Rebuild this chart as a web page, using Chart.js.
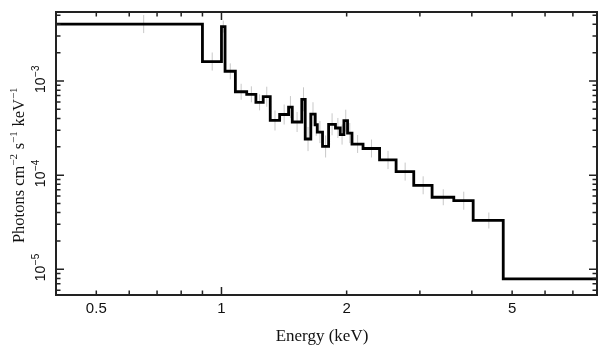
<!DOCTYPE html>
<html><head><meta charset="utf-8">
<script src="https://cdn.jsdelivr.net/npm/chart.js@4/dist/chart.umd.min.js"></script>
<style>html,body{margin:0;padding:0;background:#fff;overflow:hidden}canvas{display:block}</style>
</head><body>
<canvas id="c" width="609" height="357"></canvas>
<script>
// Bin edges (keV) of the step spectrum
const binEdges = [0.40,0.90,1.00,1.02,1.08,1.15,1.21,1.26,1.31,1.38,1.45,1.48,1.56,1.59,1.64,1.68,1.70,1.75,1.81,1.88,1.93,1.97,2.01,2.06,2.19,2.40,2.63,2.90,3.21,3.62,4.03,4.76,8.0];
// Flux level of each bin (photons cm^-2 s^-1 keV^-1)
const binFlux = [4.03e-3,1.61e-3,3.79e-3,1.27e-3,7.69e-4,7.22e-4,5.94e-4,6.81e-4,3.81e-4,4.41e-4,5.29e-4,3.67e-4,6.39e-4,2.42e-4,4.44e-4,3.43e-4,2.87e-4,2.02e-4,3.47e-4,3.17e-4,2.70e-4,3.79e-4,2.80e-4,2.14e-4,1.92e-4,1.45e-4,1.09e-4,7.80e-5,5.82e-5,5.35e-5,3.30e-5,7.89e-6];
// Grey error bars
const errEnergy = [0.65,0.95,1.01,1.05,1.115,1.18,1.235,1.285,1.345,1.415,1.465,1.52,1.575,1.615,1.66,1.69,1.725,1.78,1.845,1.905,1.95,1.99,2.035,2.125,2.295,2.515,2.765,3.055,3.415,3.825,4.395];
const errLow  = [3.23e-3,1.29e-3,3.27e-3,1.04e-3,6.32e-4,5.94e-4,4.88e-4,5.33e-4,2.98e-4,3.45e-4,4.04e-4,2.87e-4,4.77e-4,1.80e-4,3.31e-4,2.62e-4,2.19e-4,1.54e-4,2.65e-4,2.48e-4,2.11e-4,2.90e-4,2.19e-4,1.72e-4,1.54e-4,1.16e-4,8.75e-5,6.26e-5,4.79e-5,4.29e-5,2.71e-5];
const errHigh = [5.02e-3,2.01e-3,4.39e-3,1.54e-3,9.35e-4,8.78e-4,7.22e-4,8.70e-4,4.87e-4,5.63e-4,6.92e-4,4.69e-4,8.57e-4,3.25e-4,5.95e-4,4.49e-4,3.76e-4,2.64e-4,4.54e-4,4.05e-4,3.45e-4,4.96e-4,3.58e-4,2.67e-4,2.39e-4,1.81e-4,1.36e-4,9.72e-5,7.08e-5,6.67e-5,4.01e-5];
// Axis ranges and ticks
const xRange = [0.4, 8.0];
const yRange = [5.33e-6, 5.41e-3];
const xLabelValues = [0.5, 1, 2, 5];
const xLabelTexts = ['0.5', '1', '2', '5'];
const xMajorTicks = [1];
const xMinorTicks = [0.5,0.6,0.7,0.8,0.9,2,3,4,5,6,7];
const yMajorTicks = [1e-5, 1e-4, 1e-3];
const yLabelExponents = ['\u22125', '\u22124', '\u22123'];
const yMinorTicks = [6e-6,7e-6,8e-6,9e-6,2e-5,3e-5,4e-5,5e-5,6e-5,7e-5,8e-5,9e-5,2e-4,3e-4,4e-4,5e-4,6e-4,7e-4,8e-4,9e-4,2e-3,3e-3,4e-3,5e-3];
const xTitle = 'Energy (keV)';
const yTitleParts = [['Photons cm',0],['\u22122',1],[' s',0],['\u22121',1],[' keV',0],['\u22121',1]];

const stepPoints = binFlux.map((v,i)=>({x:binEdges[i], y:v}));
stepPoints.push({x:binEdges[binEdges.length-1], y:binFlux[binFlux.length-1]});
const errPoints = [];
errEnergy.forEach((e,i)=>{ errPoints.push({x:e,y:errLow[i]},{x:e,y:errHigh[i]},{x:e,y:null}); });

const axesPlugin = {
  id:'pgAxes',
  afterDatasetsDraw(chart){
    const ctx = chart.ctx, a = chart.chartArea, xs = chart.scales.x, ys = chart.scales.y;
    ctx.save();
    ctx.strokeStyle = '#222';
    ctx.lineWidth = 1.5;
    ctx.beginPath();
    const xt = (v,len)=>{ const p = xs.getPixelForValue(v); ctx.moveTo(p,a.bottom); ctx.lineTo(p,a.bottom-len); ctx.moveTo(p,a.top); ctx.lineTo(p,a.top+len); };
    const yt = (v,len)=>{ const p = ys.getPixelForValue(v); ctx.moveTo(a.left,p); ctx.lineTo(a.left+len,p); ctx.moveTo(a.right,p); ctx.lineTo(a.right-len,p); };
    xMinorTicks.forEach(v=>xt(v,4.5));
    xMajorTicks.forEach(v=>xt(v,8));
    yMinorTicks.forEach(v=>yt(v,4.5));
    yMajorTicks.forEach(v=>yt(v,8));
    ctx.stroke();
    ctx.lineWidth = 2;
    ctx.strokeRect(a.left, a.top, a.right-a.left, a.bottom-a.top);

    ctx.fillStyle = '#111';
    // x tick labels
    ctx.font = '15px "Liberation Sans", Arial, sans-serif';
    ctx.textAlign = 'center';
    ctx.textBaseline = 'alphabetic';
    xLabelValues.forEach((v,i)=>{ ctx.fillText(xLabelTexts[i], xs.getPixelForValue(v), 313); });
    // x title
    ctx.font = '17px "Liberation Serif", "Times New Roman", serif';
    ctx.fillText(xTitle, 322, 341);

    // y tick labels (rotated, with superscript)
    ctx.textAlign = 'left';
    yMajorTicks.forEach((v,i)=>{
      const p = ys.getPixelForValue(v);
      ctx.save();
      ctx.translate(45, p);
      ctx.rotate(-Math.PI/2);
      ctx.font = '14px "Liberation Sans", Arial, sans-serif';
      const w1 = ctx.measureText('10').width;
      ctx.font = '10px "Liberation Sans", Arial, sans-serif';
      const w2 = ctx.measureText(yLabelExponents[i]).width;
      const x0 = -(w1+w2)/2 + 1.5;
      ctx.font = '14px "Liberation Sans", Arial, sans-serif';
      ctx.fillText('10', x0, 0);
      ctx.font = '10px "Liberation Sans", Arial, sans-serif';
      ctx.fillText(yLabelExponents[i], x0+w1+0.5, -6);
      ctx.restore();
    });

    // y title
    ctx.save();
    ctx.translate(23.5, 165);
    ctx.rotate(-Math.PI/2);
    const bf = '16.5px "Liberation Serif", "Times New Roman", serif';
    const sf = '11px "Liberation Serif", "Times New Roman", serif';
    let total = 0;
    yTitleParts.forEach(([t,s])=>{ ctx.font = s?sf:bf; total += ctx.measureText(t).width + (s?0.5:0); });
    let cx = -total/2;
    yTitleParts.forEach(([t,s])=>{ ctx.font = s?sf:bf; ctx.fillText(t, cx, s?-7:0); cx += ctx.measureText(t).width + (s?0.5:0); });
    ctx.restore();
    ctx.restore();
  }
};

new Chart(document.getElementById('c'), {
  type:'line',
  data:{ datasets:[
    { data: stepPoints, stepped:'before', borderColor:'#000', borderWidth:2.8, pointRadius:0, fill:false, order:0, borderJoinStyle:'miter', borderCapStyle:'butt' },
    { data: errPoints, borderColor:'#c8c8c8', borderWidth:1, pointRadius:0, fill:false, spanGaps:false, order:1 }
  ]},
  options:{
    responsive:false, animation:false, devicePixelRatio:1,
    layout:{ padding:{ left:56, right:12, top:12, bottom:62 } },
    plugins:{ legend:{display:false}, tooltip:{enabled:false}, title:{display:false} },
    scales:{
      x:{ type:'logarithmic', min:xRange[0], max:xRange[1], display:false },
      y:{ type:'logarithmic', min:yRange[0], max:yRange[1], display:false }
    }
  },
  plugins:[axesPlugin]
});
</script>
</body></html>
